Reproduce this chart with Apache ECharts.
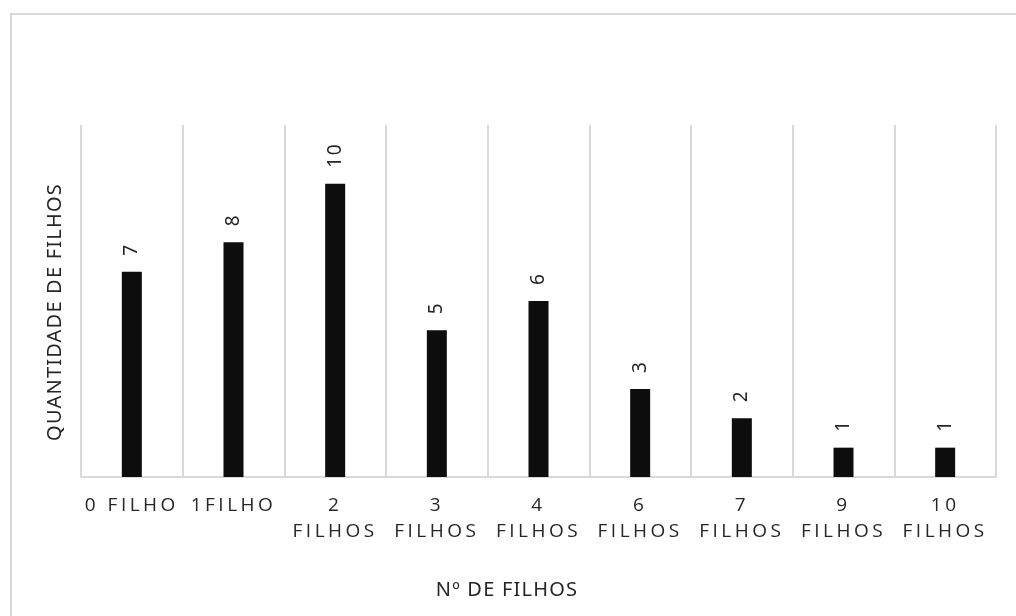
<!DOCTYPE html>
<html>
<head>
<meta charset="utf-8">
<title>Nº de filhos</title>
<script src="https://cdn.jsdelivr.net/npm/echarts@6/dist/echarts.min.js"></script>
<style>
  html, body { margin: 0; padding: 0; background: #fff; }
  #chart { width: 1016px; height: 616px; }
</style>
</head>
<body>
<div id="chart"></div>
<script>
// Number of children per respondent
const categories = ['0 FILHO', '1FILHO', '2\nFILHOS', '3\nFILHOS', '4\nFILHOS', '6\nFILHOS', '7\nFILHOS', '9\nFILHOS', '10\nFILHOS'];
const counts = [7, 8, 10, 5, 6, 3, 2, 1, 1];
const yAxisTitle = 'QUANTIDADE DE FILHOS';
const xAxisTitle = 'Nº DE FILHOS';

// Letter spacing per text style (canvas letterSpacing), keyed by the font string
const SPACING = [
  { size: '19px', family: 'Open Sans', spacing: '3.5px' },  // category labels
  { size: '19px', family: 'Noto Sans', spacing: '1.5px' },  // value labels
  { size: '20px', family: 'Noto Sans', spacing: '1.2px' }   // axis titles
];
(function () {
  const proto = CanvasRenderingContext2D.prototype;
  const baseFill = proto.fillText;
  proto.fillText = function (text, x, y, maxW) {
    const f = this.font || '';
    const rule = SPACING.find(r => f.indexOf(r.size) >= 0 && f.indexOf(r.family) >= 0);
    const prev = this.letterSpacing;
    if (rule && 'letterSpacing' in this) this.letterSpacing = rule.spacing;
    if (maxW === undefined) baseFill.call(this, text, x, y);
    else baseFill.call(this, text, x, y, maxW);
    if (rule && 'letterSpacing' in this) this.letterSpacing = prev;
  };
})();

const gridColor = '#d9d9d9';
const textColor = '#262626';

const chart = echarts.init(document.getElementById('chart'), null, { renderer: 'canvas' });
chart.setOption({
  animation: false,
  backgroundColor: '#fff',
  grid: { left: 81, right: 20, top: 125, bottom: 139, containLabel: false, outerBoundsMode: 'none' },
  xAxis: {
    type: 'category',
    data: categories,
    axisLine: { show: true, lineStyle: { color: gridColor, width: 2 } },
    axisTick: { show: false },
    splitLine: { show: true, interval: 0, lineStyle: { color: gridColor, width: 2 } },
    axisLabel: {
      interval: 0,
      margin: 16,
      color: textColor,
      fontFamily: 'Open Sans',
      fontSize: 19,
      lineHeight: 26
    }
  },
  yAxis: {
    type: 'value',
    min: 0,
    max: 12,
    interval: 2,
    axisLine: { show: false },
    axisTick: { show: false },
    axisLabel: { show: false },
    splitLine: { show: false }
  },
  series: [{
    type: 'bar',
    data: counts,
    barWidth: 20,
    itemStyle: { color: '#0d0d0d' },
    label: {
      show: true,
      position: 'top',
      distance: 16,
      rotate: 90,
      align: 'left',
      verticalAlign: 'middle',
      color: textColor,
      fontFamily: 'Noto Sans',
      fontSize: 19
    }
  }],
  graphic: [
    {
      type: 'rect',
      silent: true,
      shape: { x: 11, y: 14, width: 1100, height: 700 },
      style: { fill: 'none', stroke: gridColor, lineWidth: 2 }
    },
    {
      type: 'text',
      x: 55, y: 312,
      rotation: Math.PI / 2,
      style: {
        text: yAxisTitle,
        fill: textColor,
        font: '20px "Noto Sans"',
        align: 'center',
        verticalAlign: 'middle'
      }
    },
    {
      type: 'text',
      x: 507, y: 590,
      style: {
        text: xAxisTitle,
        fill: textColor,
        font: '20px "Noto Sans"',
        align: 'center',
        verticalAlign: 'middle'
      }
    }
  ]
});
</script>
</body>
</html>
